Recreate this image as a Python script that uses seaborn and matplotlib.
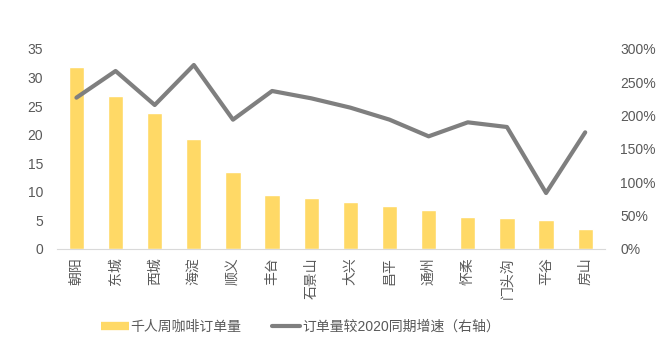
import matplotlib
matplotlib.use("Agg")
import matplotlib.pyplot as plt
import seaborn as sns
from matplotlib.lines import Line2D
from matplotlib.ticker import FuncFormatter

# ---- Data ----
districts = ["朝阳", "东城", "西城", "海淀", "顺义", "丰台", "石景山",
             "大兴", "昌平", "通州", "怀柔", "门头沟", "平谷", "房山"]
orders_per_k = [31.8, 26.8, 23.8, 19.3, 13.5, 9.5, 8.9,
                8.2, 7.5, 6.8, 5.6, 5.4, 5.1, 3.5]
growth_pct = [227, 267, 216, 276, 194, 237, 226,
              212, 194, 169, 190, 183, 84, 175]

bar_label = "千人周咖啡订单量"
line_label = "订单量较2020同期增速（右轴）"

BAR_COLOR = "#FFD966"
LINE_COLOR = "#7F7F7F"
TEXT_COLOR = "#595959"

# ---- Style ----
sns.set_style("white")
plt.rcParams['font.family'] = ['Liberation Sans', 'Noto Sans CJK SC', 'DejaVu Sans']

fig = plt.figure(figsize=(6.69, 3.55), dpi=100)
ax = fig.add_axes([0.085, 0.2986, 0.819, 0.5634])

# ---- Bars (left axis) ----
sns.barplot(x=districts, y=orders_per_k, ax=ax, color=BAR_COLOR,
            width=0.39, saturation=1)
ax.set_ylim(0, 35)
ax.set_yticks(range(0, 36, 5))

# ---- Line (right axis) ----
ax2 = ax.twinx()
sns.lineplot(x=districts, y=growth_pct, ax=ax2, color=LINE_COLOR,
             linewidth=3, sort=False)
ax2.set_ylim(0, 300)
ax2.set_yticks(range(0, 301, 50))
ax2.yaxis.set_major_formatter(FuncFormatter(lambda v, p: f"{int(v)}%"))

# ---- Axes cosmetics ----
for a in (ax, ax2):
    for s in a.spines.values():
        s.set_visible(False)
    a.set_xlabel("")
    a.set_ylabel("")
    a.tick_params(length=0, colors=TEXT_COLOR, labelsize=10)
ax.spines['bottom'].set_visible(True)
ax.spines['bottom'].set_color("#D9D9D9")
ax.set_xlim(-0.5, len(districts) - 0.5)
ax.tick_params(axis='y', pad=10)
ax2.tick_params(axis='y', pad=11)
ax.tick_params(axis='x', pad=6)

for lbl in ax.get_xticklabels():
    lbl.set_rotation(90)
    lbl.set_family(['Noto Sans CJK SC', 'DejaVu Sans'])
    lbl.set_fontsize(10)

# ---- Legend ----
handles = [Line2D([0], [0], color=BAR_COLOR, lw=6, solid_capstyle='butt'),
           Line2D([0], [0], color=LINE_COLOR, lw=3)]
leg = fig.legend(handles, [bar_label, line_label], loc='center',
                 bbox_to_anchor=(0.449, 0.079), ncol=2, frameon=False,
                 fontsize=10, handlelength=2.0, handletextpad=0.15,
                 columnspacing=2.2)
for t in leg.get_texts():
    t.set_color(TEXT_COLOR)
    t.set_family(['Liberation Sans', 'Noto Sans CJK SC', 'DejaVu Sans'])

fig.savefig("out.png", dpi=100)
